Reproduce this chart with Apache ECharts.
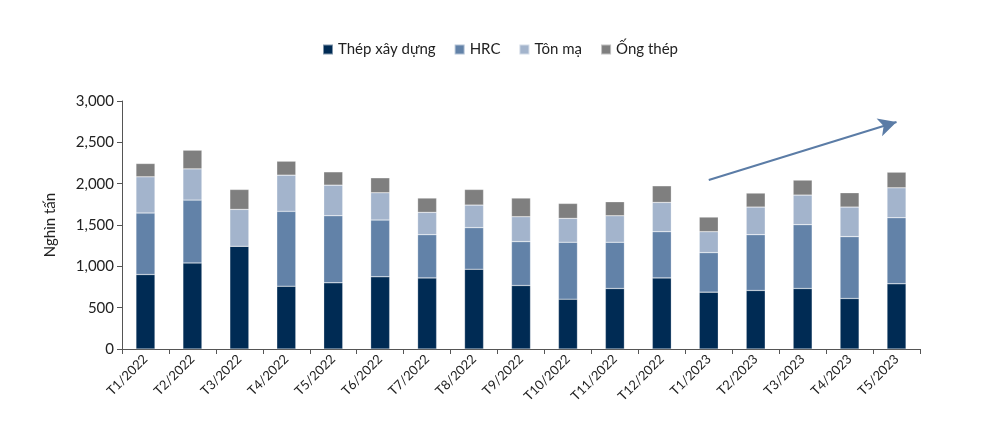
<!DOCTYPE html>
<html><head><meta charset="utf-8">
<script src="https://cdn.jsdelivr.net/npm/echarts@6/dist/echarts.min.js"></script>
<style>html,body{margin:0;background:#fff}#c{width:1000px;height:433px}</style>
</head><body><div id="c"></div>
<script>
const categories=['T1/2022','T2/2022','T3/2022','T4/2022','T5/2022','T6/2022','T7/2022','T8/2022','T9/2022','T10/2022','T11/2022','T12/2022','T1/2023','T2/2023','T3/2023','T4/2023','T5/2023'];
const thepXayDung=[901,1041,1243,760,800,873,860,965,768,603,732,860,688,708,732,611,788];
const hrc=[744,760,0,905,812,687,523,503,531,688,559,559,478,675,772,748,800];
const tonMa=[438,378,446,438,370,330,270,273,301,289,321,354,253,334,358,358,362];
const ongThep=[161,226,241,169,161,181,173,189,226,181,169,201,177,169,181,173,189];
const chart=echarts.init(document.getElementById('c'));
const font='Lato';
function s(name,data,color,extra){return Object.assign({name,type:'bar',stack:'a',data,barWidth:19,itemStyle:{color,borderColor:'rgba(255,255,255,0.5)',borderWidth:0.5}},extra||{});}
chart.setOption({
 textStyle:{fontFamily:font},
 legend:{top:37,left:'center',itemWidth:10,itemHeight:10,itemGap:18,icon:'rect',textStyle:{fontSize:15,color:'#222',fontFamily:font}},
 grid:{left:122,right:80,top:101,bottom:84},
 xAxis:{type:'category',data:categories,axisLine:{lineStyle:{color:'#555'}},axisTick:{show:true,lineStyle:{color:'#555'}},
   axisLabel:{rotate:45,fontSize:13,color:'#222',interval:0,margin:8}},
 yAxis:{type:'value',min:0,max:3000,interval:500,name:'Nghìn tấn',nameLocation:'middle',nameGap:64,nameTextStyle:{fontSize:15,color:'#222'},
   axisLine:{show:true,lineStyle:{color:'#555'}},axisTick:{show:true,lineStyle:{color:'#555'}},splitLine:{show:false},
   axisLabel:{fontSize:15,color:'#222',formatter:v=>v.toLocaleString('en-US')}},
 series:[
  s('Thép xây dựng',thepXayDung,'#002b54'),
  s('HRC',hrc,'#6282a8'),
  s('Tôn mạ',tonMa,'#a3b4cc'),
  s('Ống thép',ongThep,'#7f7f7f',{markLine:{silent:true,symbol:['none','arrow'],symbolSize:[14,18],label:{show:false},
    lineStyle:{color:'#5b7ca6',width:2,type:'solid'},
    data:[[{coord:['T1/2023',2044]},{coord:['T5/2023',2745]}]]}})
 ]
});
</script></body></html>
